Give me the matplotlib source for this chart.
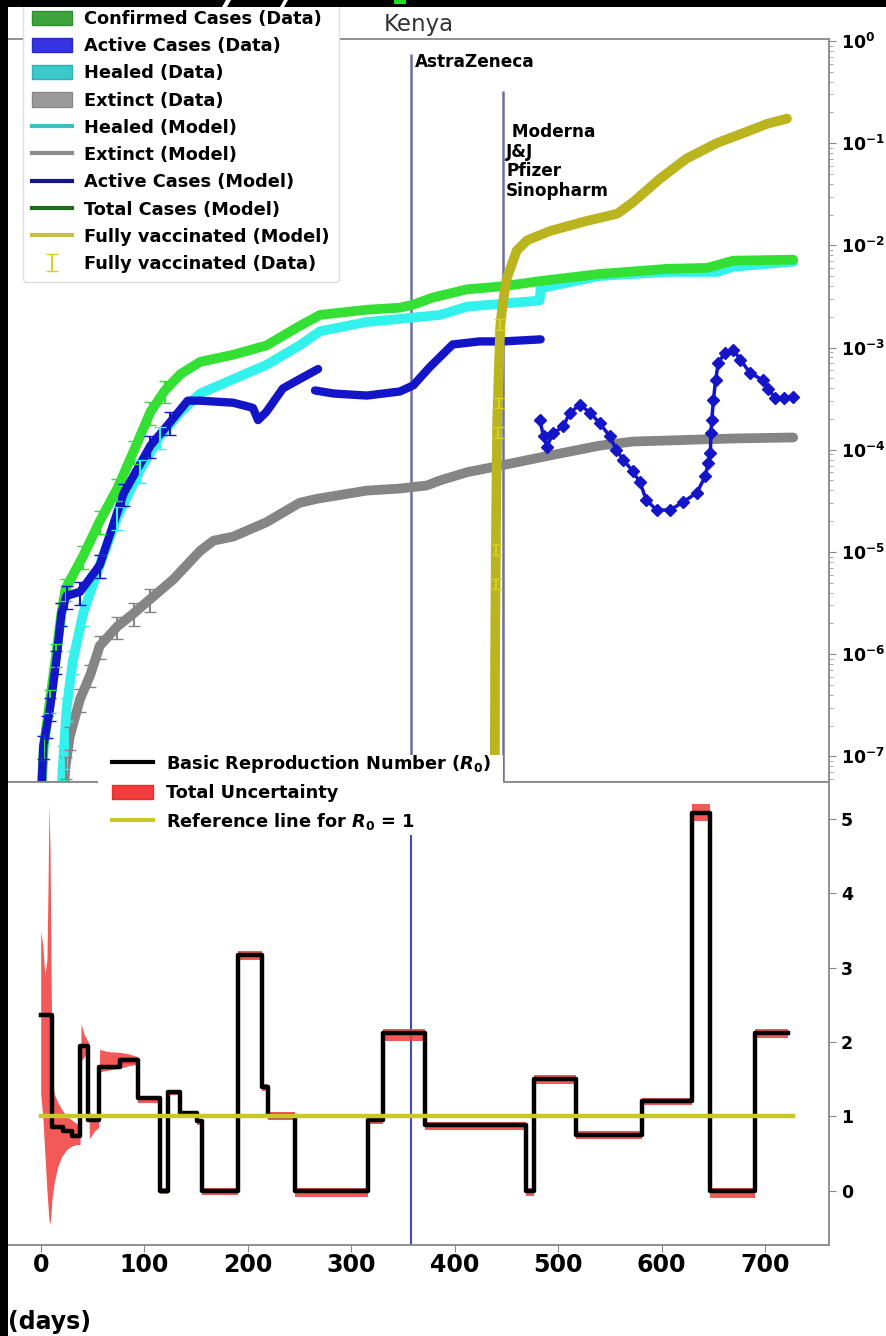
import numpy as np
import matplotlib
matplotlib.use('Agg')
import matplotlib.pyplot as plt
from matplotlib.patches import Rectangle, Polygon, Patch
from matplotlib.lines import Line2D
from matplotlib.ticker import LogLocator, NullFormatter, FuncFormatter

plt.rcParams['font.family'] = ['DejaVu Sans']
plt.rcParams['font.weight'] = 'bold'

# ---------------- data ----------------
# top panel: fractions of population, stored as log10 exponents
conf_days = [0, 3, 9, 15, 20, 24, 41, 57, 74, 90, 106, 120, 135, 154, 186, 218, 250, 270,
             315, 347, 360, 379, 412, 447, 482, 540, 605, 644, 669, 727]
conf_exp = [-7.5, -6.9, -6.45, -6.0, -5.6, -5.36, -5.04, -4.70, -4.38, -4.01, -3.63, -3.42,
            -3.26, -3.14, -3.07, -2.98, -2.79, -2.68, -2.63, -2.61, -2.58, -2.51, -2.43,
            -2.40, -2.35, -2.28, -2.23, -2.22, -2.15, -2.14]

heal_days = [19, 22, 25, 31, 41, 57, 74, 96, 115, 135, 154, 186, 218, 250, 270, 315, 347,
             386, 412, 447, 482, 483, 540, 605, 654, 669, 727]
heal_exp = [-7.5, -7.0, -6.53, -6.07, -5.60, -5.13, -4.66, -4.20, -3.87, -3.63, -3.45, -3.31,
            -3.17, -2.98, -2.84, -2.75, -2.72, -2.68, -2.60, -2.57, -2.54, -2.42, -2.30,
            -2.26, -2.26, -2.21, -2.16]

act1_days = [0, 2.5, 6, 9, 15, 20, 25, 38, 57, 80, 106, 125, 142, 154, 186, 205, 210, 218,
             234, 250, 268]
act1_exp = [-7.5, -6.9, -6.7, -6.53, -6.07, -5.60, -5.43, -5.39, -5.13, -4.43, -3.96, -3.73,
            -3.52, -3.52, -3.54, -3.59, -3.71, -3.63, -3.40, -3.31, -3.21]
act2_days = [265, 283, 315, 347, 360, 376, 398, 424, 447, 483]
act2_exp = [-3.42, -3.45, -3.47, -3.43, -3.37, -3.19, -2.97, -2.94, -2.94, -2.92]
act3_days = [482, 486, 489, 495, 505, 511, 521, 531, 540, 550, 556, 563, 572, 579, 585, 595,
             608, 621, 634, 642, 645, 647, 647.5, 648.3, 650, 652, 654.7, 661, 669, 676,
             685.5, 698, 703, 709.5, 718, 727]
act3_exp = [-3.71, -3.87, -3.97, -3.84, -3.77, -3.64, -3.56, -3.64, -3.74, -3.87, -4.00,
            -4.10, -4.21, -4.32, -4.49, -4.59, -4.59, -4.51, -4.42, -4.26, -4.13, -4.03,
            -3.84, -3.71, -3.51, -3.32, -3.15, -3.05, -3.02, -3.12, -3.25, -3.32, -3.41,
            -3.49, -3.49, -3.48]

ext_days = [21, 24, 28, 38, 48, 57, 74, 90, 106, 128, 154, 167, 186, 218, 250, 267, 315,
            347, 373, 386, 412, 447, 490, 540, 572, 637, 669, 727]
ext_exp = [-7.5, -7.1, -6.81, -6.44, -6.20, -5.92, -5.73, -5.60, -5.46, -5.27, -4.99, -4.89,
           -4.85, -4.71, -4.52, -4.48, -4.40, -4.38, -4.35, -4.30, -4.22, -4.15, -4.06,
           -3.96, -3.92, -3.90, -3.89, -3.88]

vacc_days = [438.5, 439, 439.5, 440, 441, 444, 446, 450, 460, 470, 492, 524, 557, 572, 598,
             624, 653, 679, 702, 721]
vacc_exp = [-8.0, -6.0, -5.31, -4.66, -3.73, -2.79, -2.60, -2.33, -2.05, -1.95, -1.86, -1.77,
            -1.69, -1.58, -1.35, -1.15, -1.00, -0.90, -0.81, -0.76]
vacc_data_days = [439.5, 440, 442, 443, 444]
vacc_data_exp = [-5.31, -4.97, -3.83, -3.54, -2.77]

vaccine_days = [358, 447]
vaccine_labels = ['AstraZeneca', ' Moderna\nJ&J\nPfizer\nSinopharm']

# bottom panel: basic reproduction number (step function)
r0_days = [0, 11, 22, 30, 38, 46, 56, 77, 94, 115, 123, 135, 151, 156, 191, 214, 220, 246,
           316, 331, 371, 469, 477, 517, 581, 629, 647, 690, 722]
r0_vals = [2.36, 0.86, 0.80, 0.73, 1.94, 0.95, 1.67, 1.76, 1.24, 0.00, 1.33, 1.04, 0.93,
           0.00, 3.17, 1.40, 1.01, 0.00, 0.95, 2.12, 0.88, 0.00, 1.50, 0.75, 1.20, 5.08,
           0.00, 2.12, 2.12]
r0_lo = [2.36, 0.86, 0.80, 0.73, 1.94, 0.95, 1.67, 1.70, 1.18, -0.05, 1.28, 0.98, 0.88,
         -0.06, 3.10, 1.34, 0.95, -0.09, 0.90, 2.02, 0.82, -0.08, 1.44, 0.70, 1.15, 4.98,
         -0.10, 2.05, 2.05]
r0_hi = [2.36, 0.86, 0.80, 0.73, 1.94, 0.95, 1.67, 1.80, 1.27, 0.03, 1.36, 1.07, 0.96,
         0.03, 3.22, 1.44, 1.06, 0.03, 0.98, 2.17, 0.92, 0.03, 1.55, 0.80, 1.25, 5.20,
         0.03, 2.17, 2.17]
unc_days = [0, 2, 4, 6, 7, 8, 9, 10, 11, 13, 16, 20, 25, 30, 35, 38, 39, 42, 46, 47, 52, 56,
            57, 65, 77, 85, 94]
unc_hi = [3.5, 3.3, 2.9, 3.1, 4.0, 5.2, 4.6, 3.0, 1.5, 1.3, 1.2, 1.1, 1.0, 0.95, 0.9, 0.85,
          2.25, 2.1, 2.0, 1.05, 1.0, 0.98, 1.9, 1.87, 1.86, 1.84, 1.80]
unc_lo = [1.3, 1.0, 0.5, 0.0, -0.2, -0.4, -0.45, -0.3, -0.1, 0.1, 0.3, 0.45, 0.55, 0.6, 0.62,
          0.62, 1.75, 1.8, 1.85, 0.7, 0.8, 0.85, 1.6, 1.62, 1.65, 1.68, 1.70]
ref_days = [0, 727]
ref_vals = [1, 1]

x_ticks = [0, 100, 200, 300, 400, 500, 600, 700]
r_ticks = [0, 1, 2, 3, 4, 5]

# ---------------- figure ----------------
W, H = 887, 1336
fig = plt.figure(figsize=(W / 100, H / 100), dpi=100, facecolor='black')


def fx(px):
    return px / W


def fy(py):
    return 1 - py / H


fig.patches.append(Rectangle((fx(8), 0), 1 - fx(8), fy(7), transform=fig.transFigure,
                             facecolor='white', edgecolor='none', zorder=-10))

ax1 = fig.add_axes([fx(8), fy(782), fx(829) - fx(8), fy(39) - fy(782)])
ax2 = fig.add_axes([fx(8), fy(1245), fx(829) - fx(8), fy(782) - fy(1245)])

GREEN, CYAN, BLUE, GRAY, YEL = '#33e033', '#33f2ee', '#1515c8', '#858585', '#bab51f'


def v(e):
    return 10.0 ** np.asarray(e, dtype=float)


def early(days, exps, lim=125):
    d = np.asarray(days, dtype=float)
    m = d <= lim
    return d[m], v(exps)[m]


# model lines (thin, mostly hidden by data bands)
ax1.plot(heal_days, v(heal_exp), color='#2fb5b5', lw=1.5, zorder=2)
ax1.plot(ext_days, v(ext_exp), color='#777777', lw=1.5, zorder=2)
ax1.plot(act1_days, v(act1_exp), color='#10108a', lw=1.5, zorder=2)
ax1.plot(conf_days, v(conf_exp), color='#1e6e1e', lw=1.5, zorder=2)

# data bands
ax1.plot(ext_days, v(ext_exp), color=GRAY, lw=7, zorder=3, solid_capstyle='round',
         solid_joinstyle='round')
ax1.plot(heal_days, v(heal_exp), color=CYAN, lw=7, zorder=3.1, solid_capstyle='round',
         solid_joinstyle='round')
ax1.plot(conf_days, v(conf_exp), color=GREEN, lw=7, zorder=3.2, solid_capstyle='round',
         solid_joinstyle='round')
ax1.plot(act1_days, v(act1_exp), color=BLUE, lw=6, zorder=3.3, solid_capstyle='round',
         solid_joinstyle='round')
ax1.plot(act2_days, v(act2_exp), color=BLUE, lw=6, zorder=3.3, solid_capstyle='round',
         solid_joinstyle='round')
ax1.plot(act3_days, v(act3_exp), color=BLUE, lw=2.5, marker='D', ms=6.5, zorder=3.3)
for days, exps, col in [(ext_days, ext_exp, GRAY), (heal_days, heal_exp, CYAN),
                        (conf_days, conf_exp, GREEN), (act1_days, act1_exp, BLUE)]:
    d, val = early(days, exps)
    ax1.errorbar(d, val, yerr=0.25 * val, fmt='none', ecolor=col, capsize=4,
                 elinewidth=1.5, zorder=3.4)

ax1.plot(vacc_days, v(vacc_exp), color=YEL, lw=7, zorder=3.6, solid_capstyle='round',
         solid_joinstyle='round')
vacc_err = ax1.errorbar(vacc_data_days, v(vacc_data_exp), yerr=0.12 * v(vacc_data_exp),
                        fmt='none', ecolor='#d8d020', capsize=4, elinewidth=1.5, zorder=3.7)

# vaccine introduction lines and labels
ax1.vlines(vaccine_days[0], 1e-9, 0.746, color='#6e6ea0', lw=1.8, zorder=1)
ax1.vlines(vaccine_days[1], 1e-9, 0.324, color='#6e6ea0', lw=1.8, zorder=1)
ax1.text(362, 0.623, vaccine_labels[0], fontsize=12.2, fontweight='bold', va='center',
         ha='left', zorder=6)
ax1.text(449.6, 0.0662, vaccine_labels[1], fontsize=12.2, fontweight='bold', va='center',
         ha='left', linespacing=1.14, zorder=6)

ax1.set_yscale('log')
ax1.set_ylim(5.6e-8, 1.046)
ax1.set_xlim(-31.6, 761.6)
ax1.yaxis.tick_right()
ax1.yaxis.set_major_locator(LogLocator(base=10, numticks=15))
ax1.yaxis.set_minor_locator(LogLocator(base=10, subs=np.arange(2, 10), numticks=15))
ax1.yaxis.set_minor_formatter(NullFormatter())


def log_label(val, pos):
    if val < 5e-8 or val > 1.1:
        return ''
    return r'$\mathbf{10^{%d}}$' % int(round(np.log10(val)))


ax1.yaxis.set_major_formatter(FuncFormatter(log_label))
ax1.tick_params(axis='y', which='major', labelsize=12.5, length=5, color='#888888')
ax1.tick_params(axis='y', which='minor', length=3, color='#999999')
ax1.tick_params(axis='x', bottom=False, labelbottom=False)
ax1.set_title('Kenya', fontsize=16.5, fontweight='normal', color='#333333', pad=6)

for ax in (ax1, ax2):
    ax.spines['left'].set_visible(False)
    for s in ('top', 'right', 'bottom'):
        ax.spines[s].set_color('#888888')
        ax.spines[s].set_linewidth(1.3)

top_handles = [
    Patch(facecolor='#3da33d', edgecolor='#2e8e2e'),
    Patch(facecolor='#3434e0', edgecolor='#2a2ac0'),
    Patch(facecolor='#3cc9c9', edgecolor='#30b0b0'),
    Patch(facecolor='#9a9a9a', edgecolor='#888888'),
    Line2D([], [], color='#3cc0c0', lw=3),
    Line2D([], [], color='#8c8c8c', lw=3),
    Line2D([], [], color='#15158a', lw=3),
    Line2D([], [], color='#1e6e1e', lw=3),
    Line2D([], [], color='#c8c040', lw=3),
    vacc_err,
]
top_labels = ['Confirmed Cases (Data)', 'Active Cases (Data)', 'Healed (Data)',
              'Extinct (Data)', 'Healed (Model)', 'Extinct (Model)', 'Active Cases (Model)',
              'Total Cases (Model)', 'Fully vaccinated (Model)', 'Fully vaccinated (Data)']
leg1 = ax1.legend(top_handles, top_labels, loc='upper left',
                  bbox_to_anchor=(fx(23), fy(1)), bbox_transform=fig.transFigure,
                  fontsize=12.8, labelspacing=0.52, handlelength=2.25, handleheight=0.85,
                  handletextpad=0.7, borderpad=0.5, borderaxespad=0, frameon=True,
                  fancybox=True, framealpha=1, edgecolor='#dddddd')

# ---------------- bottom panel ----------------
ax2.axvline(vaccine_days[0], color='#4646c8', lw=1.5, zorder=1)
ax2.fill_between(unc_days, unc_lo, unc_hi, color='#f03c3c', alpha=0.85, lw=0, zorder=2)
ax2.fill_between(r0_days, r0_lo, r0_hi, step='post', color='#f03c3c', alpha=0.85, lw=0,
                 zorder=2)
ax2.step(r0_days, r0_vals, where='post', color='black', lw=3.2, zorder=4)
ax2.plot(ref_days, ref_vals, color='#c8c828', lw=3.2, zorder=4.2)

ax2.set_xlim(-31.6, 761.6)
ax2.set_ylim(-0.733, 5.50)
ax2.yaxis.tick_right()
ax2.set_yticks(r_ticks)
ax2.set_xticks(x_ticks)
ax2.tick_params(axis='y', labelsize=12.5, length=5, color='#888888')
ax2.tick_params(axis='x', labelsize=17, length=5, color='#888888', pad=1)

ax2.add_patch(Rectangle((fx(98), fy(835)), fx(503) - fx(98), fy(755) - fy(835),
                        transform=fig.transFigure, facecolor='white', edgecolor='none',
                        clip_on=False, zorder=4.5))
bot_handles = [Line2D([], [], color='black', lw=3),
               Patch(facecolor='#f03c3c', edgecolor='#e03030'),
               Line2D([], [], color='#c8c828', lw=3)]
bot_labels = ['Basic Reproduction Number ($R_0$)', 'Total Uncertainty',
              'Reference line for $R_0$ = 1']
ax2.legend(bot_handles, bot_labels, loc='upper left', bbox_to_anchor=(fx(108), fy(749)),
           bbox_transform=fig.transFigure, fontsize=12.8, labelspacing=0.52,
           handlelength=2.35, handleheight=0.85, handletextpad=0.7, borderpad=0.2,
           borderaxespad=0, frameon=False)

fig.text(fx(8.5), fy(1322), '(days)', fontsize=17, fontweight='bold', va='center', ha='left')

# black crop borders with remnants of cut-off content
fig.patches.append(Rectangle((0, fy(7)), 1, 1 - fy(7), transform=fig.transFigure,
                             facecolor='black', edgecolor='none', zorder=15))
fig.patches.append(Rectangle((0, 0), fx(8), 1, transform=fig.transFigure,
                             facecolor='black', edgecolor='none', zorder=15))
for pts, col in [([(222, 7), (226, 0), (231, 0), (227, 7)], 'white'),
                 ([(280, 7), (284, 0), (288, 0), (284, 7)], 'white'),
                 ([(394, 0), (406, 0), (406, 3.5), (394, 3.5)], '#22dd22')]:
    fig.patches.append(Polygon([(fx(a), fy(b)) for a, b in pts], closed=True,
                               transform=fig.transFigure, facecolor=col, edgecolor='none',
                               zorder=16))

fig.savefig('out.png', dpi=100, facecolor=fig.get_facecolor())
